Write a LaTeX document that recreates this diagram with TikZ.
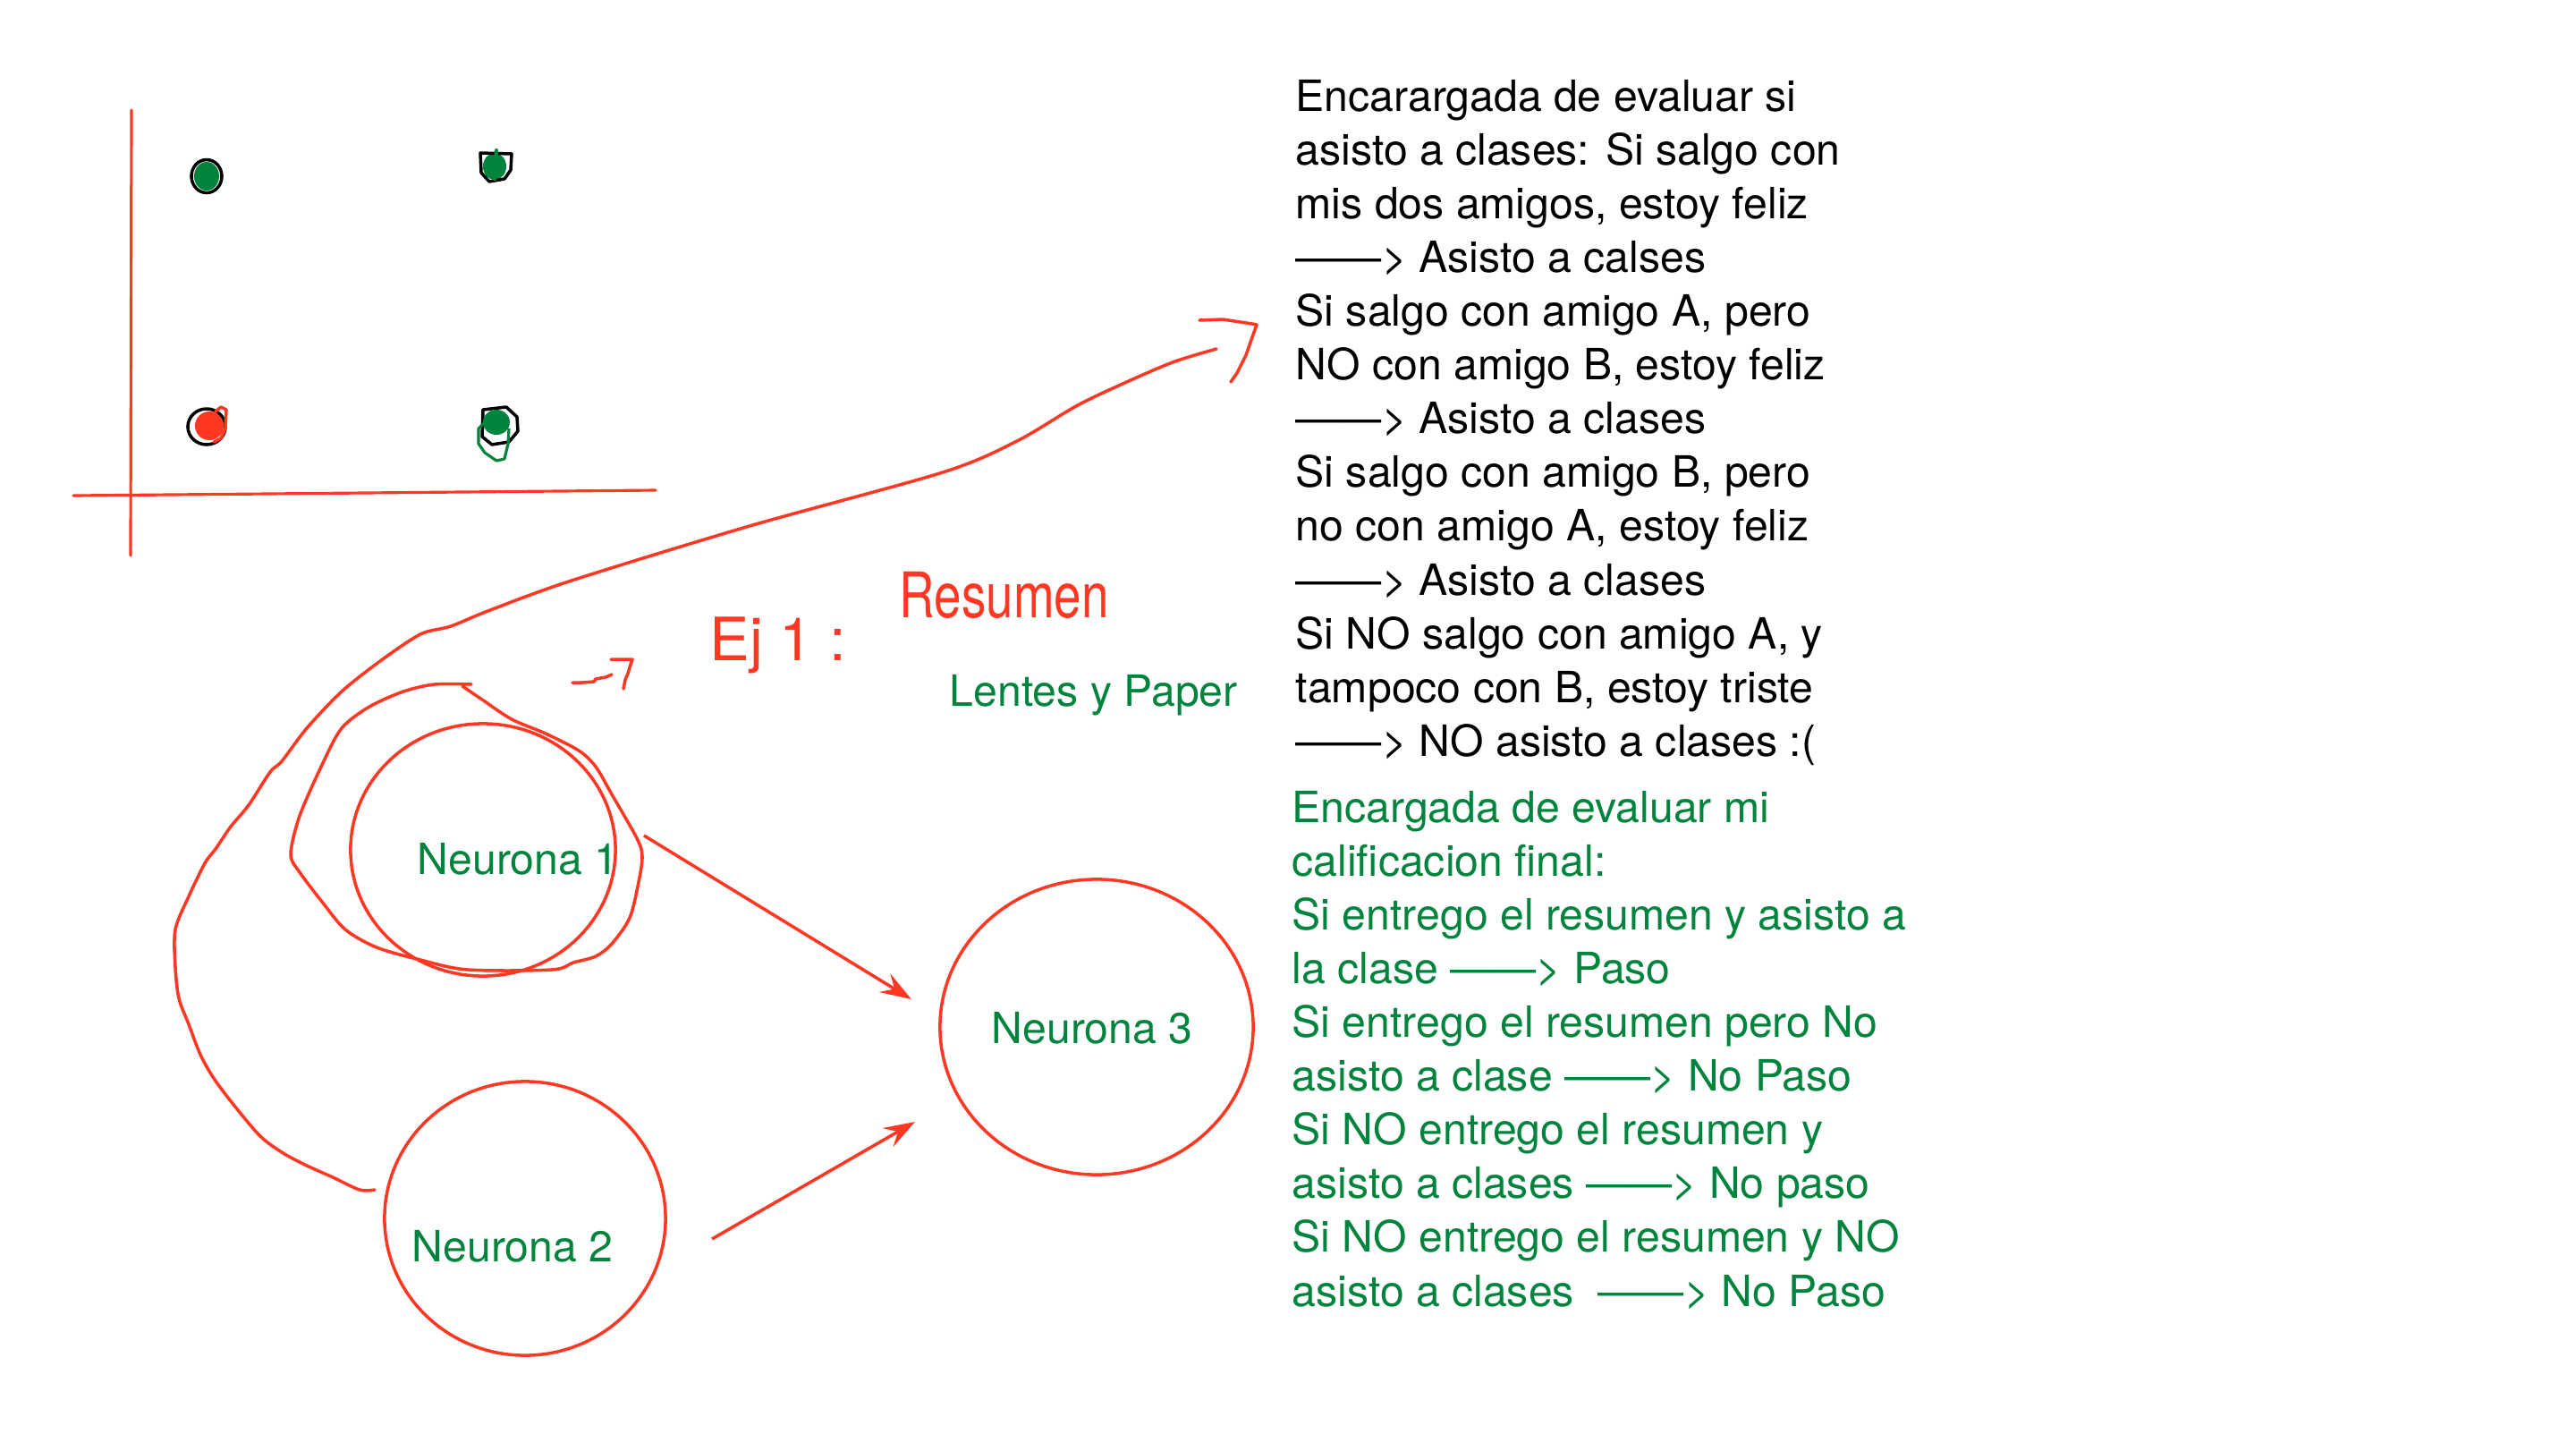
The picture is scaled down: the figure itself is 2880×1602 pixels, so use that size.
\documentclass[tikz,border=0pt]{standalone}
\usepackage{fontspec}
\setmainfont{TeX Gyre Heros}
\usetikzlibrary{arrows.meta,shapes.geometric}
\definecolor{inkred}{RGB}{255,56,36}
\definecolor{inkgreen}{RGB}{0,132,61}

\begin{document}
\begin{tikzpicture}[x=0.01cm, y=-0.01cm,
  every node/.style={inner sep=0pt, font=\fontsize{13.7}{17.07}\selectfont},
  neuron/.style={draw=inkred, line width=1pt, ellipse},
  ink/.style={draw=inkred, line width=1pt, line cap=round, line join=round},
  wire/.style={-{Stealth[length=3.5mm, width=2.4mm, inset=1.3mm]}, draw=inkred, line width=1pt},
  lbl/.style={text=inkgreen, anchor=base west},
  dot/.style={draw=black, line width=1pt, line join=round}]
\path[use as bounding box, fill=white] (0,0) rectangle (2880,1602);

% axes and the four points
\draw[ink, line width=0.9pt] (147,123) -- (146,621);
\draw[ink, line width=0.9pt] (82,554) -- (733,548);
\fill[inkgreen] (231,197) ellipse (0.14cm and 0.16cm);
\draw[dot] (231,197) ellipse (0.17cm and 0.185cm);
\fill[inkgreen] (553,186) ellipse (0.13cm and 0.15cm);
\draw[dot] (537,171) -- (572,172) -- (571,190) -- (564,200) -- (547,203) -- (538,193) -- cycle;
\draw[inkgreen, line width=1.2pt, line cap=round] (555,168) -- (553,200);
\draw[dot] (231,477) ellipse (0.21cm and 0.2cm);
\fill[inkred] (234,476) ellipse (0.16cm and 0.16cm);
\draw[ink] (241,460) -- (247,455) -- (253,458) -- (252,479) -- (247,490) -- (239,494);
\draw[dot] (540,458) -- (566,455) -- (578,466) -- (579,482) -- (569,494) -- (550,497) -- (539,488) -- cycle;
\fill[inkgreen] (555,472) ellipse (0.15cm and 0.14cm);
\draw[inkgreen, line width=0.9pt, line join=round] (542,472) -- (535,479) -- (535,496) -- (542,506) -- (555,515) -- (564,513) -- (568,496) -- (569,479);

% neurons
\node[neuron, minimum width=2.96cm, minimum height=2.82cm] (n1) at (540,950) {};
\node[neuron, minimum width=3.14cm, minimum height=3.06cm] (n2) at (587,1362) {};
\node[neuron, minimum width=3.50cm, minimum height=3.30cm] (n3) at (1226,1148) {};
\node[lbl] (l1) at (466,977) {Neurona 1};
\node[lbl] (l2) at (460,1410) {Neurona 2};
\node[lbl] (l3) at (1108,1166) {Neurona 3};
\node[lbl] (lentes) at (1061,789) {Lentes y Paper};

\coordinate (s1) at (720,934);
\coordinate (t1) at (1019,1117);
\coordinate (s2) at (796,1385);
\coordinate (t2) at (1023,1254);
\draw[wire] (s1) -- (t1);
\draw[wire] (s2) -- (t2);

% hand strokes
\draw[ink] plot[smooth, tension=0.5] coordinates {(527,765) (486,765) (451,773) (413,790) (382,814) (360,855) (335,912) (325,955) (335,975) (360,1008) (386,1039) (421,1059) (470,1073) (523,1084) (617,1084) (641,1076) (666,1069) (684,1055) (704,1026) (714,986) (718,957) (712,937) (684,888) (666,857) (647,839) (610,820) (572,804) (539,782) (517,767)};
\draw[ink] plot[smooth, tension=0.5] coordinates {(419,1330) (402,1330) (372,1316) (341,1302) (315,1288) (288,1267) (245,1214) (225,1181) (211,1145) (200,1116) (196,1081) (196,1039) (211,1002) (229,965) (241,949) (258,924) (278,900) (302,863) (315,851) (343,814) (382,773) (425,739) (470,709) (504,700) (548,682) (639,649) (838,588) (1054,528) (1137,493) (1203,454) (1253,430) (1311,405) (1360,390)};
\draw[ink] (1341,358) -- (1367,357) -- (1400,362) -- (1405,363) -- (1400,377) -- (1393,397) -- (1383,417) -- (1376,427);
\draw[ink] (640,763) -- (651,763) -- (664,762) -- (666,759) -- (677,757) -- (684,754);
\draw[ink] (683,737) -- (707,737) -- (705,743) -- (702,753) -- (699,760) -- (697,770);
\node[anchor=base west, text=inkred, font=\fontsize{19}{22}\selectfont] (ej) at (793,738) {Ej 1 :};
\node[anchor=base west, text=inkred, font=\fontsize{20}{24}\selectfont] (resumen) at (1005,690) {\scalebox{0.78}[1]{Resumen}};

% rules
\node[anchor=north west, align=left] (asiste) at (1448,82) {\strut Encarargada de evaluar si\\
asisto a clases: Si salgo con\\
mis dos amigos, estoy feliz\\
——> Asisto a calses\\
Si salgo con amigo A, pero\\
NO con amigo B, estoy feliz\\
——> Asisto a clases\\
Si salgo con amigo B, pero\\
no con amigo A, estoy feliz\\
——> Asisto a clases\\
Si NO salgo con amigo A, y\\
tampoco con B, estoy triste\\
——> NO asisto a clases :(};
\node[anchor=north west, align=left, text=inkgreen] (califica) at (1444,877) {\strut Encargada de evaluar mi\\
calificacion final:\\
Si entrego el resumen y asisto a\\
la clase ——> Paso\\
Si entrego el resumen pero No\\
asisto a clase ——> No Paso\\
Si NO entrego el resumen y\\
asisto a clases ——> No paso\\
Si NO entrego el resumen y NO\\
asisto a clases \ ——> No Paso};
\end{tikzpicture}
\end{document}
